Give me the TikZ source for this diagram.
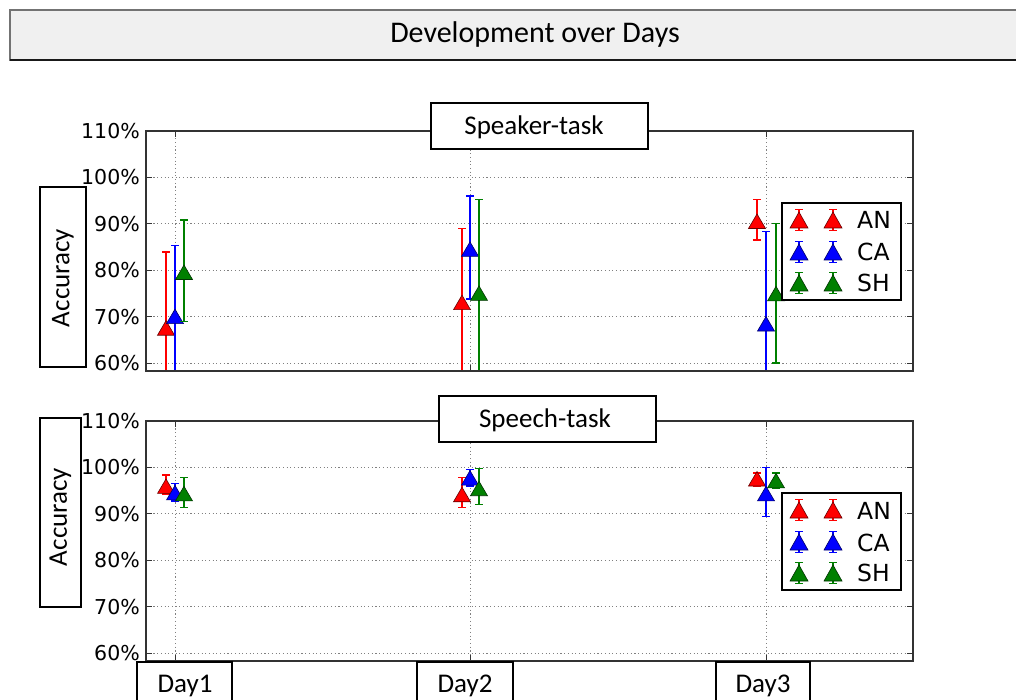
\documentclass[tikz,border=0pt]{standalone}
\usepackage{fontspec}
\setmainfont{Carlito}
\newfontfamily\plotfont{DejaVu Sans}
\definecolor{mplred}{rgb}{1,0,0}
\definecolor{mplblue}{rgb}{0,0,1}
\definecolor{mplgreen}{rgb}{0,0.5,0}
\definecolor{titlefill}{RGB}{240,240,240}
\tikzset{
  labelbox/.style={draw=black, line width=1.1pt, fill=white},
  gridline/.style={draw=black!50, line width=0.9pt, dash pattern=on 1.1pt off 2.6pt},
  frameline/.style={draw=black!80, line width=1.4pt},
  ticklabel/.style={anchor=east, inner sep=0pt, font=\plotfont\fontsize{20.5}{20.5}\selectfont},
  legtext/.style={anchor=base west, inner sep=0pt, font=\plotfont\fontsize{23.5}{23.5}\selectfont},
  boxtext/.style={inner sep=0pt, font=\fontsize{27}{30}\selectfont},
}
% y pixel of a percentage inside a panel whose frame top is at 131
\newcommand\yof[1]{131+(110-#1)*4.64}
% one error bar with a triangle marker: x, value, low, high, colour
\newcommand\errmark[5]{%
  \pgfmathsetmacro\yv{\yof{#2}}%
  \pgfmathsetmacro\ylo{\yof{#3}}%
  \pgfmathsetmacro\yhi{\yof{#4}}%
  \draw[#5, line width=1.4pt] (#1,\ylo) -- (#1,\yhi)
        (#1-4,\ylo) -- (#1+4,\ylo) (#1-4,\yhi) -- (#1+4,\yhi);
  \draw[fill=#5, draw=black!60!#5, line width=0.6pt]
        (#1,\yv-7.5) -- (#1-8.5,\yv+7) -- (#1+8.5,\yv+7) -- cycle;
}
% legend marker: x, y, colour
\newcommand\legmark[3]{%
  \draw[#3, line width=1.2pt] (#1,#2-10.5) -- (#1,#2+10.5)
        (#1-4,#2-10.5) -- (#1+4,#2-10.5) (#1-4,#2+10.5) -- (#1+4,#2+10.5);
  \draw[fill=#3, draw=black!60!#3, line width=0.6pt]
        (#1,#2-8) -- (#1-9,#2+8) -- (#1+9,#2+8) -- cycle;
}
% grid, ticks and tick labels of one panel
\newcommand\panelbase{%
  \foreach \v in {60,70,80,90,100} {
    \pgfmathsetmacro\yy{\yof{\v}}
    \draw[gridline] (146,\yy) -- (913,\yy);
    \draw[frameline, line width=1pt] (913,\yy) -- (907,\yy) (146,\yy) -- (152,\yy);
  }
  \foreach \dx in {175,470,766} {
    \draw[gridline] (\dx,131) -- (\dx,371);
    \draw[frameline, line width=1pt] (\dx,131) -- (\dx,137) (\dx,371) -- (\dx,365);
  }
  \foreach \v in {60,70,80,90,100,110} {
    \pgfmathsetmacro\yy{\yof{\v}}
    \node[ticklabel] at (140,\yy) {\v\%};
  }
}
% frame and legend of one panel
\newcommand\panelframe{%
  \draw[frameline] (146,131) rectangle (913,371);
  \draw[draw=black, line width=1.2pt, fill=white] (782,203) rectangle (901,300);
  \legmark{799}{220}{mplred}   \legmark{833}{220}{mplred}
  \legmark{799}{252}{mplblue}  \legmark{833}{252}{mplblue}
  \legmark{799}{283}{mplgreen} \legmark{833}{283}{mplgreen}
  \node[legtext] at (857,229) {AN};
  \node[legtext] at (857,261) {CA};
  \node[legtext] at (857,291) {SH};
}
\begin{document}
\begin{tikzpicture}[x=1pt, y=-1pt]
\useasboundingbox (0,0) rectangle (1016,700);
\clip (0,0) rectangle (1016,700);
\fill[white] (0,0) rectangle (1016,700);

% heading bar
\draw[fill=titlefill, draw=black!55, line width=1.3pt] (10,10) rectangle (1030,60);
\draw[black!90, line width=1.6pt] (10,60) -- (1030,60);
\node[inner sep=0pt, font=\fontsize{30}{33}\selectfont, anchor=base] (title) at (535,43) {Development over Days};

% upper panel: speaker task
\begin{scope}
  \panelbase
  \begin{scope}
    \clip (146,131) rectangle (913,371);
    \errmark{166}{67.5}{40}{83.9}{mplred}
    \errmark{175}{70}{40}{85.3}{mplblue}
    \errmark{184}{79.5}{69}{90.8}{mplgreen}
    \errmark{462}{73}{40}{89}{mplred}
    \errmark{470}{84.5}{73.8}{96}{mplblue}
    \errmark{479}{75}{40}{95.3}{mplgreen}
    \errmark{757}{90.5}{86.5}{95.3}{mplred}
    \errmark{766}{68.4}{40}{88.4}{mplblue}
    \errmark{776}{74.9}{60}{90}{mplgreen}
  \end{scope}
  \panelframe
\end{scope}

% lower panel: speech task
\begin{scope}[shift={(0,290)}]
  \panelbase
  \begin{scope}
    \clip (146,131) rectangle (913,371);
    \errmark{166}{95.9}{94.3}{98.4}{mplred}
    \errmark{175}{94.5}{92.8}{96.5}{mplblue}
    \errmark{184}{94.3}{91.3}{97.8}{mplgreen}
    \errmark{462}{94.1}{91.3}{97.8}{mplred}
    \errmark{470}{97.7}{96}{99.5}{mplblue}
    \errmark{479}{95.4}{92}{99.7}{mplgreen}
    \errmark{757}{97.5}{96}{98.8}{mplred}
    \errmark{766}{94.3}{89.4}{100}{mplblue}
    \errmark{776}{97.1}{95.6}{98.8}{mplgreen}
  \end{scope}
  \panelframe
\end{scope}

% panel captions
\draw[labelbox] (431,103) rectangle (648,149);
\node[boxtext, anchor=base] (speaker) at (534,135) {Speaker-task};
\draw[labelbox] (439,396) rectangle (656,442);
\node[boxtext, anchor=base] (speech) at (545,427) {Speech-task};

% y axis captions
\draw[labelbox] (40,187) rectangle (86,367);
\node[boxtext, rotate=90] (acc1) at (63,278) {Accuracy};
\draw[labelbox] (40,418) rectangle (81,607);
\node[boxtext, rotate=90] (acc2) at (60.5,517) {Accuracy};

% day captions
\draw[labelbox] (137,662) rectangle (232,712);
\node[boxtext, anchor=base] (day1) at (185,692) {Day1};
\draw[labelbox] (417,662) rectangle (513,712);
\node[boxtext, anchor=base] (day2) at (465,692) {Day2};
\draw[labelbox] (716,662) rectangle (810,712);
\node[boxtext, anchor=base] (day3) at (763,692) {Day3};
\end{tikzpicture}
\end{document}
